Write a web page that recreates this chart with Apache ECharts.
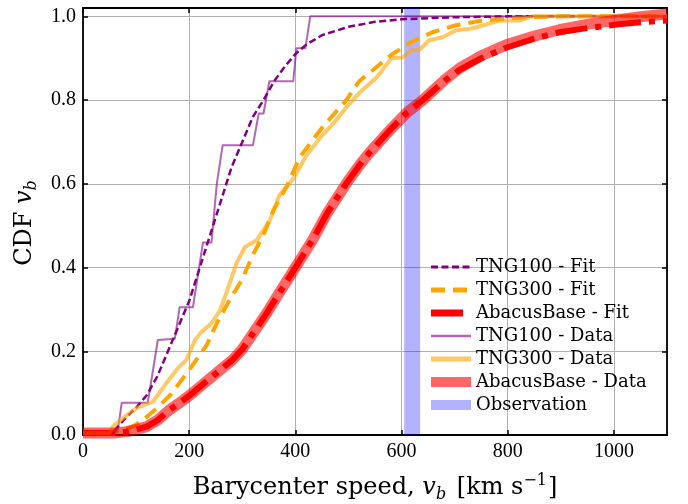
<!DOCTYPE html>
<html>
<head>
<meta charset="utf-8">
<script src="https://cdn.jsdelivr.net/npm/echarts@6/dist/echarts.min.js"></script>
<style>
  html, body { margin: 0; padding: 0; background: #fff; }
  #chart { width: 688px; height: 504px; }
</style>
</head>
<body>
<div id="chart"></div>
<script>
// values (speed in km/s, CDF)
const tng100FitV = [0, 50, 60, 80, 100, 120, 140, 160, 180, 200, 220, 240, 260, 280, 300, 320, 340, 360, 380, 400, 420, 450, 500, 550, 600, 700, 800, 1100];
const tng100FitC = [0.005, 0.005, 0.012, 0.04, 0.065, 0.095, 0.14, 0.2, 0.26, 0.32, 0.4, 0.48, 0.56, 0.64, 0.7, 0.76, 0.8, 0.845, 0.88, 0.91, 0.932, 0.955, 0.975, 0.987, 0.993, 0.998, 1.0, 1.0];

const tng300FitV = [0, 50, 80, 100, 113, 140, 164, 200, 233, 252, 275, 299, 320, 342, 360, 383, 408, 430, 451, 475, 496, 520, 549, 583, 620, 658, 700, 752, 835, 900, 1100];
const tng300FitC = [0.005, 0.005, 0.012, 0.025, 0.036, 0.065, 0.095, 0.155, 0.215, 0.267, 0.32, 0.37, 0.43, 0.485, 0.54, 0.592, 0.663, 0.7, 0.735, 0.77, 0.8, 0.845, 0.875, 0.91, 0.94, 0.962, 0.978, 0.99, 0.998, 1.0, 1.0];

const abacusFitV = [0, 60, 82, 100, 120, 140, 163, 180, 201, 220, 239, 260, 282, 300, 312, 346, 370, 400, 432, 460, 496, 521, 540, 583, 610, 640, 680, 709, 750, 797, 850, 897, 950, 1009, 1050, 1100];
const abacusFitC = [0.005, 0.005, 0.008, 0.013, 0.02, 0.035, 0.06, 0.075, 0.095, 0.115, 0.135, 0.157, 0.18, 0.205, 0.227, 0.291, 0.34, 0.4, 0.465, 0.53, 0.601, 0.645, 0.675, 0.735, 0.77, 0.8, 0.845, 0.872, 0.9, 0.925, 0.947, 0.962, 0.972, 0.981, 0.986, 0.99];
const abacusDataC = [0.005, 0.005, 0.008, 0.013, 0.02, 0.035, 0.06, 0.075, 0.095, 0.115, 0.135, 0.157, 0.18, 0.205, 0.227, 0.291, 0.34, 0.4, 0.465, 0.53, 0.601, 0.645, 0.675, 0.735, 0.77, 0.8, 0.847, 0.876, 0.906, 0.932, 0.953, 0.968, 0.981, 0.992, 0.999, 1.006];

const tng100DataV = [0, 60, 66, 73, 122, 141, 173, 182, 207, 226, 242, 252, 263, 320, 331, 340, 351, 396, 402, 419, 428, 1100];
const tng100DataC = [0.005, 0.005, 0.015, 0.077, 0.077, 0.227, 0.23, 0.305, 0.305, 0.46, 0.46, 0.6, 0.692, 0.692, 0.768, 0.768, 0.845, 0.845, 0.924, 0.924, 1.0, 1.0];

const tng300DataV = [0, 50, 56, 80, 101, 132, 157, 179, 195, 211, 223, 242, 258, 270, 289, 305, 327, 352, 370, 395, 421, 446, 477, 496, 521, 553, 581, 602, 618, 633, 652, 677, 703, 733, 784, 822, 846, 1100];
const tng300DataC = [0.005, 0.005, 0.02, 0.045, 0.064, 0.08, 0.124, 0.16, 0.18, 0.227, 0.246, 0.267, 0.298, 0.339, 0.41, 0.449, 0.465, 0.513, 0.573, 0.61, 0.668, 0.709, 0.752, 0.783, 0.818, 0.854, 0.9, 0.902, 0.919, 0.919, 0.943, 0.95, 0.967, 0.971, 0.99, 0.99, 1.0, 1.0];

const obsRange = [605, 635];
const xTicks = [0, 200, 400, 600, 800, 1000];
const yTicks = ["0.0", "0.2", "0.4", "0.6", "0.8", "1.0"];

const zip = (xs, ys) => xs.map((x, i) => [x, ys[i]]);
const FONT = "Liberation Serif";
const TFONT = "DejaVu Serif";

const chart = echarts.init(document.getElementById("chart"), null, { renderer: "canvas" });

const baseAxis = {
  type: "value",
  axisLine: { show: true, onZero: false, lineStyle: { color: "#000", width: 1.8 } },
  axisTick: { show: true, inside: true, length: 5, lineStyle: { color: "#000", width: 1.5 } },
  splitLine: { show: false },
};

const lineSeries = (name, v, c, color, width, dash, z) => ({
  name: name,
  type: "line",
  data: zip(v, c),
  showSymbol: false,
  symbol: "none",
  smooth: false,
  z: z,
  lineStyle: { color: color, width: width, type: dash, cap: "butt", join: "round" },
  itemStyle: { color: color },
  emphasis: { disabled: true },
});

const titleRich = {
  n: { fontFamily: TFONT, fontSize: 24, color: "#000", lineHeight: 30 },
  i: { fontFamily: TFONT, fontSize: 24, fontStyle: "italic", color: "#000", lineHeight: 30 },
  s: { fontFamily: TFONT, fontSize: 16, fontStyle: "italic", color: "#000", lineHeight: 30, verticalAlign: "bottom", padding: [12, 3, 0, 0] },
  p: { fontFamily: TFONT, fontSize: 16, color: "#000", lineHeight: 30, verticalAlign: "top", padding: [0, 1, 12, 0] },
};

const option = {
  animation: false,
  grid: { left: 83, right: 21, top: 8, bottom: 69, containLabel: false, outerBoundsMode: "none" },
  xAxis: [
    Object.assign({}, baseAxis, {
      position: "bottom",
      min: 0, max: 1100, interval: 200,
      axisLabel: { show: true, margin: 7, color: "#000", fontFamily: FONT, fontSize: 20, showMaxLabel: false,
        formatter: (v) => (xTicks.indexOf(v) >= 0 ? String(v) : "") },
      splitLine: { show: true, lineStyle: { color: "#b0b0b0", width: 1 } },
      name: "{n|Barycenter speed, }{i|v}{s|b}{n| [km s}{p|−1}{n|]}",
      nameLocation: "middle",
      nameGap: 38,
      nameTextStyle: { color: "#000", rich: titleRich },
    }),
    Object.assign({}, baseAxis, {
      position: "top",
      min: 0, max: 1100, interval: 200,
      axisLabel: { show: false },
    }),
  ],
  yAxis: [
    Object.assign({}, baseAxis, {
      position: "left",
      min: 0, max: 1.02, interval: 0.2,
      axisLabel: { show: true, margin: 7, color: "#000", fontFamily: FONT, fontSize: 20, showMaxLabel: false,
        formatter: (v) => { const s = v.toFixed(1); return Math.abs(v * 5 - Math.round(v * 5)) < 1e-6 && yTicks.indexOf(s) >= 0 ? s : ""; } },
      splitLine: { show: true, lineStyle: { color: "#b0b0b0", width: 1 } },
      name: "{n|CDF }{i|v}{s|b}",
      nameLocation: "middle",
      nameGap: 38,
      nameRotate: 90,
      nameTextStyle: { color: "#000", rich: titleRich },
    }),
    Object.assign({}, baseAxis, {
      position: "right",
      min: 0, max: 1.02, interval: 0.2,
      axisLabel: { show: false },
    }),
  ],
  legend: {
    orient: "vertical",
    left: 421,
    top: 252,
    itemWidth: 40,
    itemHeight: 10,
    itemGap: 3,
    itemStyle: { opacity: 0 },
    textStyle: { fontFamily: TFONT, fontSize: 18, color: "#000", lineHeight: 20 },
    data: [
      { name: "TNG100 - Fit", lineStyle: { width: 3 } },
      { name: "TNG300 - Fit", lineStyle: { width: 5 } },
      { name: "AbacusBase - Fit", lineStyle: { width: 7 } },
      { name: "TNG100 - Data", lineStyle: { width: 2.5 } },
      { name: "TNG300 - Data", lineStyle: { width: 5 } },
      { name: "AbacusBase - Data", lineStyle: { width: 10 } },
      { name: "Observation", icon: "rect", itemStyle: { color: "rgba(0,0,255,0.3)", opacity: 1 } },
    ],
  },
  series: [
    lineSeries("TNG100 - Fit", tng100FitV, tng100FitC, "#800080", 2.5, [7, 3.5], 3),
    lineSeries("TNG300 - Fit", tng300FitV, tng300FitC, "#ffa500", 4, [14, 8], 3),
    lineSeries("AbacusBase - Fit", abacusFitV, abacusFitC, "#ff0000", 6, [32, 8, 6, 8], 3),
    lineSeries("TNG100 - Data", tng100DataV, tng100DataC, "rgba(128,0,128,0.6)", 2, "solid", 4),
    lineSeries("TNG300 - Data", tng300DataV, tng300DataC, "rgba(255,165,0,0.6)", 4, "solid", 4),
    lineSeries("AbacusBase - Data", abacusFitV, abacusDataC, "rgba(255,0,0,0.6)", 11, "solid", 4),
    {
      name: "Observation",
      type: "line",
      data: [],
      z: 5,
      itemStyle: { color: "rgba(0,0,255,0.3)" },
      markArea: {
        silent: true,
        itemStyle: { color: "rgba(0,0,255,0.3)" },
        data: [[{ xAxis: obsRange[0] }, { xAxis: obsRange[1] }]],
      },
    },
  ],
};

chart.setOption(option);
</script>
</body>
</html>
